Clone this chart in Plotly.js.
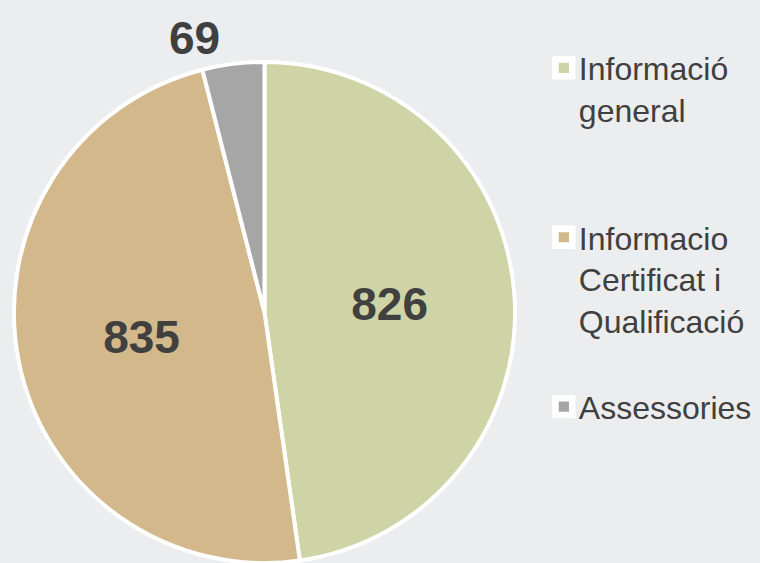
<!DOCTYPE html>
<html>
<head>
<meta charset="utf-8">
<script src="https://cdn.plot.ly/plotly-3.0.1.min.js"></script>
<style>
html,body{margin:0;padding:0;background:#ECEDEF;}
.legend .legendpie{transform:translate(25px,0px) scale(1.4);stroke-width:4.7px !important;}
</style>
</head>
<body>
<div id="chart" style="width:760px;height:563px;"></div>
<script>
const categories = ["Informació general", "Informacio Certificat i Qualificació", "Assessories"];
const legendLabels = ["Informació<br>general<br> <br> ", "Informacio<br>Certificat i<br>Qualificació<br> ", "Assessories"];
const values = [826, 835, 69];
const colors = ["#CED4A6", "#D2B88A", "#A6A6A6"];
const textPositions = ["inside", "inside", "outside"];

const trace = {
  type: "pie",
  labels: legendLabels,
  values: values,
  sort: false,
  direction: "clockwise",
  rotation: 0,
  marker: {colors: colors, line: {color: "#FFFFFF", width: 4}},
  textinfo: "value",
  textposition: textPositions,
  insidetextorientation: "horizontal",
  textfont: {family: "Liberation Sans, Arial, sans-serif", size: 46, color: "#404040", weight: "bold"},
  domain: {x: [0.016, 0.68], y: [0.0, 0.89]},
  hoverinfo: "label+value"
};

const layout = {
  width: 760, height: 563,
  margin: {l: 0, r: 0, t: 0, b: 0},
  paper_bgcolor: "#ECEDEF",
  plot_bgcolor: "#ECEDEF",
  showlegend: true,
  legend: {
    x: 0.709, y: 0.928, xanchor: "left", yanchor: "top",
    valign: "top",
    font: {family: "Liberation Sans, Arial, sans-serif", size: 32, color: "#404040"},
    bgcolor: "rgba(0,0,0,0)",
    itemwidth: 30
  }
};

Plotly.newPlot("chart", [trace], layout, {displayModeBar: false, staticPlot: true});
</script>
</body>
</html>
